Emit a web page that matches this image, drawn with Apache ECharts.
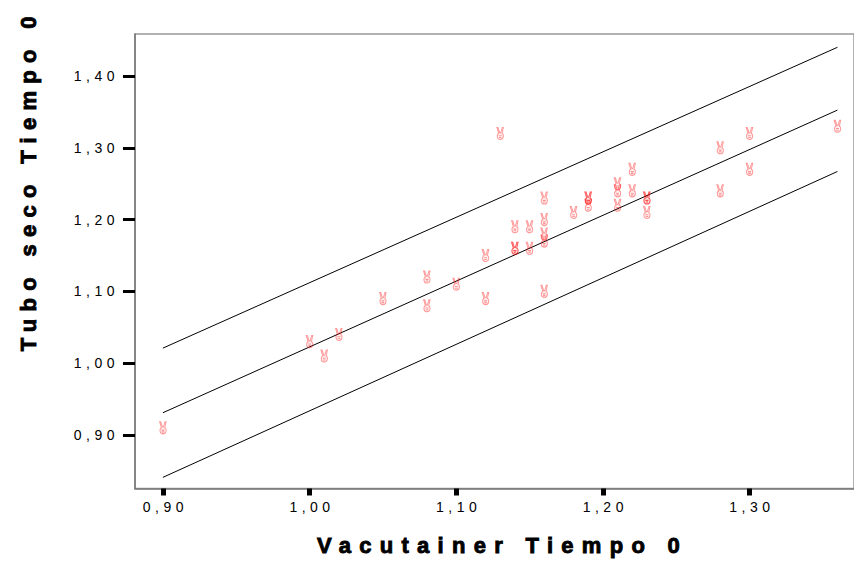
<!DOCTYPE html>
<html><head><meta charset="utf-8">
<script src="https://cdn.jsdelivr.net/npm/echarts@6/dist/echarts.min.js"></script>
<style>
html,body{margin:0;padding:0;background:#fff;}
#main{width:854px;height:563px;}
#main text[style*="Liberation"]{letter-spacing:4.5px;}
#main text[style*="Arial"]{letter-spacing:8.3px;}
#main text[style*="Arimo"]{letter-spacing:7.3px;}
</style></head><body><div id="main"></div>
<script>
const xTicks = [0.90, 1.00, 1.10, 1.20, 1.30];
const yTicks = [0.90, 1.00, 1.10, 1.20, 1.30, 1.40];
const vacutainer = [0.90, 1.00, 1.01, 1.02, 1.05, 1.08, 1.08, 1.10, 1.12, 1.12, 1.13, 1.14, 1.14, 1.14, 1.15, 1.15, 1.16, 1.16, 1.16, 1.16, 1.16, 1.18, 1.19, 1.19, 1.19, 1.21, 1.21, 1.21, 1.22, 1.22, 1.23, 1.23, 1.23, 1.28, 1.28, 1.30, 1.30, 1.36];
const tuboSeco   = [0.91, 1.03, 1.01, 1.04, 1.09, 1.12, 1.08, 1.11, 1.15, 1.09, 1.32, 1.19, 1.16, 1.16, 1.19, 1.16, 1.23, 1.20, 1.18, 1.17, 1.10, 1.21, 1.23, 1.23, 1.22, 1.25, 1.24, 1.22, 1.27, 1.24, 1.23, 1.23, 1.21, 1.30, 1.24, 1.32, 1.27, 1.33];
const fitX = [0.90, 1.36];
const fitMid = [0.931, 1.3525];
const fitUpper = [1.021, 1.440];
const fitLower = [0.841, 1.267];

const fmt = v => Number(v).toFixed(2).replace('.', ',');
const pts = vacutainer.map((x, i) => [x, tuboSeco[i]]);
const lineData = arr => fitX.map((x, i) => [x, arr[i]]);
const lineSeries = (name, arr) => ({
  name: name, type: 'line', data: lineData(arr), symbol: 'none', silent: true,
  lineStyle: { color: '#000', width: 1 }, z: 2
});
// victory-hand style marker outline
const handPath = 'path://M1,0 L2.4,0 L4.4,5.2 L5.6,5.2 L7.4,0 L8.8,0 L7.2,6 C9.6,6.6 9.6,12 5,12 C0.6,12 0.6,6.8 3.2,6 Z M3.2,8.3 L6.8,8.3 M3.6,10 L6.4,10';

const chart = echarts.init(document.getElementById('main'), null, { renderer: 'svg' });
chart.setOption({
  animation: false,
  backgroundColor: '#fff',
  grid: { left: 135, right: -3, top: 34, bottom: 74.5, show: true, borderColor: '#999', borderWidth: 1.5, backgroundColor: 'transparent' },
  xAxis: {
    type: 'value', min: 0.881, max: 1.3713,
    name: 'Vacutainer Tiempo 0', nameLocation: 'middle', nameGap: 46,
    nameTextStyle: { fontFamily: 'Arial', fontWeight: 'bold', fontSize: 22, color: '#000', textBorderColor: '#000', textBorderWidth: 0.9, padding: [0, 0, 0, 16] },
    axisLine: { show: true, onZero: false, lineStyle: { color: '#777', width: 1.5 } },
    axisTick: { show: true, customValues: xTicks, length: 7, lineStyle: { color: '#000', width: 5 } },
    axisLabel: { customValues: xTicks, formatter: fmt, margin: 11, fontFamily: 'Liberation Sans', fontSize: 14, color: '#000', padding: [0, 0, 0, 5] },
    splitLine: { show: false }
  },
  yAxis: {
    type: 'value', min: 0.8255, max: 1.4585,
    name: 'Tubo seco Tiempo 0', nameLocation: 'middle', nameGap: 96,
    nameTextStyle: { fontFamily: 'Arimo, Arial', fontWeight: 'bold', fontSize: 22, color: '#000', textBorderColor: '#000', textBorderWidth: 0.9, padding: [0, 0, 0, 162] },
    axisLine: { show: true, onZero: false, lineStyle: { color: '#777', width: 1.5 } },
    axisTick: { show: true, customValues: yTicks, length: 12, lineStyle: { color: '#000', width: 3 } },
    axisLabel: { customValues: yTicks, formatter: fmt, margin: 16, fontFamily: 'Liberation Sans', fontSize: 14, color: '#000' },
    splitLine: { show: false }
  },
  series: [
    lineSeries('Superior', fitUpper),
    lineSeries('Ajuste', fitMid),
    lineSeries('Inferior', fitLower),
    {
      name: 'Casos', type: 'scatter', data: pts, z: 3,
      symbol: handPath, symbolSize: [10, 12], symbolKeepAspect: true,
      itemStyle: { color: 'rgba(255,0,0,0.06)', borderColor: 'rgba(255,0,0,0.5)', borderWidth: 1 }
    }
  ]
});
</script></body></html>
